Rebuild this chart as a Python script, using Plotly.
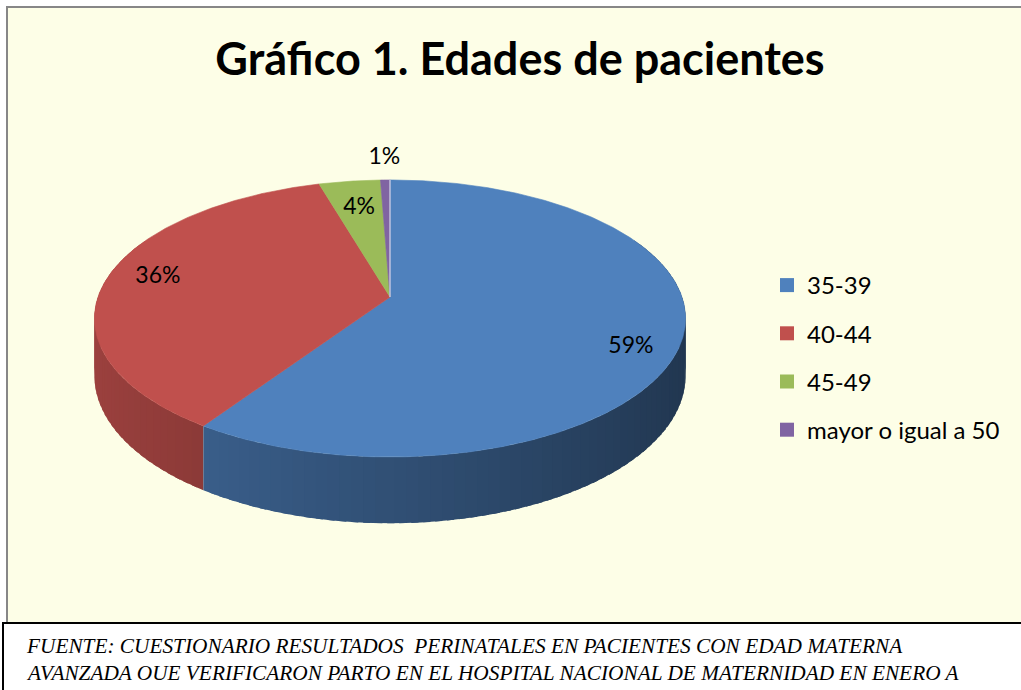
import numpy as np
import plotly.graph_objects as go

# ---------------- data ----------------
categories = ["35-39", "40-44", "45-49", "mayor o igual a 50"]
values = [59.4, 36.1, 3.9, 0.6]
slice_colors = ["#4F81BD", "#C0504D", "#9BBB59", "#8064A2"]
title_text = "Gráfico 1. Edades de pacientes"
source_lines = [
    "FUENTE: CUESTIONARIO RESULTADOS  PERINATALES EN PACIENTES CON EDAD MATERNA",
    "AVANZADA OUE VERIFICARON PARTO EN EL HOSPITAL NACIONAL DE MATERNIDAD EN ENERO A",
]

# ---------------- style / geometry ----------------
W, H = 1021, 690
CX, CY = 390.0, 297.0      # apex of pie (pixel units)
R, RY = 292.0, 135.2       # horizontal / vertical radii
K = 0.155                  # perspective strength
DEPTH = 56.0               # thickness of the pie
label_r = [0.83, 0.82, 0.74, 1.22]
label_dy = [16, -3, 0, 0]
BG = "#FDFEE7"


def proj(theta_deg, drop=0.0):
    t = np.radians(theta_deg)
    X = np.sin(t)
    Z = -np.cos(t)
    s = 1.0 / (1.0 - K * Z)
    return CX + R * X * s, CY + RY * Z * s + drop * s


def hex_rgb(h):
    h = h.lstrip("#")
    return tuple(int(h[i:i + 2], 16) for i in (0, 2, 4))


def shade(h, f):
    r, g, b = hex_rgb(h)
    return "rgb(%d,%d,%d)" % (min(255, r * f), min(255, g * f), min(255, b * f))


total = float(sum(values))
edges = np.concatenate([[0.0], np.cumsum(values)]) / total * 360.0

fig = go.Figure()

# ---- side walls (painted far-to-near) ----
segs = []
for i, c in enumerate(slice_colors):
    a0, a1 = edges[i], edges[i + 1]
    n = max(1, int(np.ceil((a1 - a0) / 2.0)))
    bnds = np.linspace(a0, a1, n + 1)
    for t0, t1 in zip(bnds[:-1], bnds[1:]):
        tm = 0.5 * (t0 + t1)
        Zm = -np.cos(np.radians(tm))
        if Zm < -0.45:
            continue
        Xm = np.sin(np.radians(tm))
        # slight overlap to hide seams between strips
        ts = np.linspace(max(a0, t0 - 0.6), min(a1, t1 + 0.6), 4)
        xt, yt = proj(ts)
        xb, yb = proj(ts[::-1], DEPTH)
        xs = np.concatenate([xt, xb, xt[:1]])
        ys = np.concatenate([yt, yb, yt[:1]])
        f = 0.62 - 0.2 * Xm
        segs.append((Zm, xs, ys, shade(c, f)))
segs.sort(key=lambda s: s[0])
for _, xs, ys, col in segs:
    fig.add_trace(go.Scatter(
        x=xs, y=ys, mode="lines", fill="toself", fillcolor=col,
        line=dict(color=col, width=0), hoverinfo="skip", showlegend=False))

# ---- top faces ----
for i, c in enumerate(slice_colors):
    a0, a1 = edges[i], edges[i + 1]
    ts = np.linspace(a0, a1, max(3, int((a1 - a0) * 2)))
    xa, ya = proj(ts)
    xs = np.concatenate([[CX], xa, [CX]])
    ys = np.concatenate([[CY], ya, [CY]])
    fig.add_trace(go.Scatter(
        x=xs, y=ys, mode="lines", fill="toself", fillcolor=c,
        line=dict(color=c, width=0.6), name=categories[i],
        hoverinfo="name", showlegend=False))

# thin light separator at the start of the first slice
xe, ye = proj(np.array([0.0]))
fig.add_trace(go.Scatter(x=[CX, xe[0]], y=[CY, ye[0]], mode="lines",
                         line=dict(color="rgba(220,230,245,0.9)", width=1.2),
                         hoverinfo="skip", showlegend=False))

# ---- percentage labels ----
mids = 0.5 * (edges[:-1] + edges[1:])
lx, ly = [], []
for m, r, dy in zip(mids, label_r, label_dy):
    t = np.radians(m)
    X, Z = np.sin(t), -np.cos(t)
    s = 1.0 / (1.0 - K * Z * r)
    lx.append(CX + R * X * r * s)
    ly.append(CY + RY * Z * r * s + dy)
pct = ["%d%%" % round(v / total * 100) for v in values]
fig.add_trace(go.Scatter(
    x=lx, y=ly, mode="text", text=pct, textposition="middle center",
    textfont=dict(family="Lato, Carlito, sans-serif", size=23, color="black"),
    hoverinfo="skip", showlegend=False))

# ---- legend entries ----
for cat, c in zip(categories, slice_colors):
    fig.add_trace(go.Scatter(
        x=[None], y=[None], mode="markers", name=cat, legendgroup=cat,
        marker=dict(symbol="square", size=14, color=c), showlegend=True))

# ---- chart area / source box ----
fig.add_shape(type="rect", xref="x", yref="y", x0=7, y0=7, x1=W + 20, y1=623,
              fillcolor=BG, line=dict(color="#878787", width=2), layer="below")
fig.add_shape(type="rect", xref="x", yref="y", x0=3, y0=623, x1=W + 20, y1=H + 20,
              fillcolor="white", line=dict(color="black", width=2), layer="below")
for j, line in enumerate(source_lines):
    fig.add_annotation(
        x=24, y=646 + 27 * j, xref="x", yref="y", xanchor="left", yanchor="middle",
        text=line, showarrow=False,
        font=dict(family="Liberation Serif, Times New Roman, serif", size=21.3,
                  color="black", style="italic"))

fig.update_layout(
    width=W, height=H,
    margin=dict(l=0, r=0, t=0, b=0),
    paper_bgcolor="white", plot_bgcolor="rgba(0,0,0,0)",
    title=dict(text=title_text, x=520 / W, xref="paper", xanchor="center",
               y=1 - 59 / H, yref="container", yanchor="middle",
               font=dict(family="Lato, Carlito, sans-serif", size=45,
                         color="black", weight="bold")),
    xaxis=dict(range=[0, W], visible=False, fixedrange=True),
    yaxis=dict(range=[H, 0], visible=False, fixedrange=True),
    legend=dict(x=767 / W, y=1 - 263 / H, xanchor="left", yanchor="top",
                bgcolor="rgba(0,0,0,0)", tracegroupgap=14, itemwidth=30,
                font=dict(family="Lato, Carlito, sans-serif", size=24, color="black")),
    showlegend=True,
)

fig.write_html("out.html", config={"displayModeBar": False},
               post_script="document.body.style.margin='0';document.body.style.overflow='hidden';")
